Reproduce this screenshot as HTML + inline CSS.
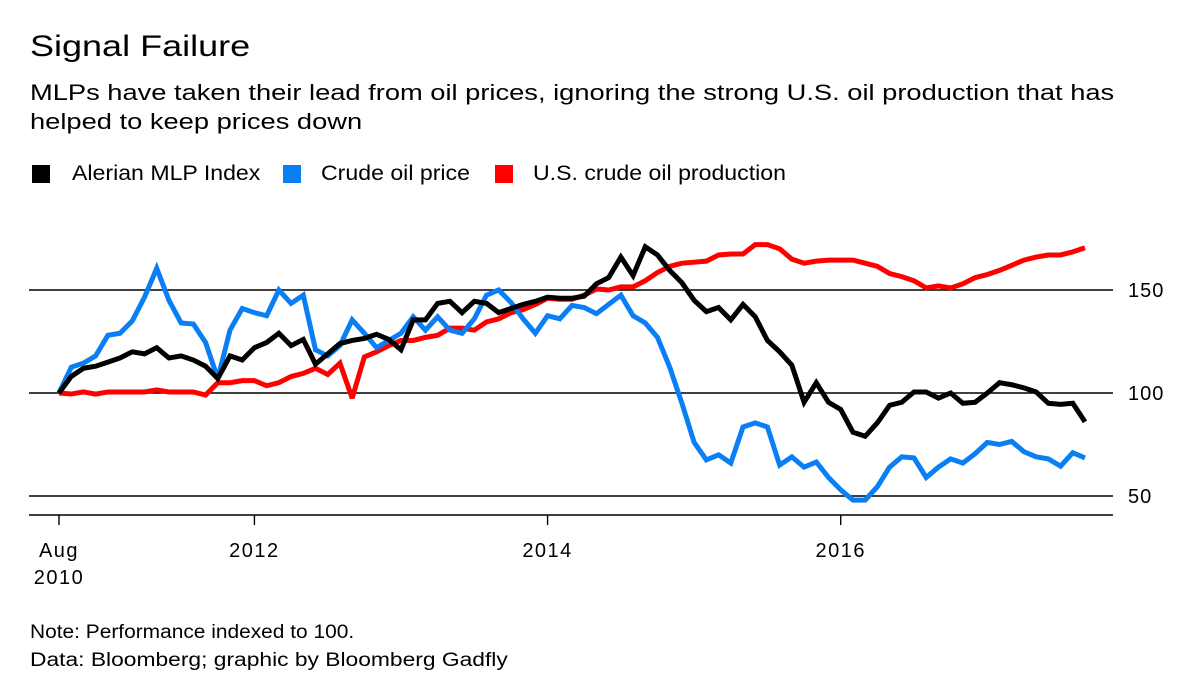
<!DOCTYPE html>
<html><head><meta charset="utf-8"><style>
body{margin:0;width:1200px;height:694px;background:#fff;font-family:"Liberation Sans",sans-serif;color:#000;overflow:hidden;position:relative}
.t{position:absolute;white-space:nowrap;transform-origin:0 0}
.sw{position:absolute;width:18px;height:18px;top:165px}
</style></head><body>
<div class="t" style="left:30px;top:30px;font-size:30px;transform:scaleX(1.2)">Signal Failure</div>
<div class="t" style="left:30px;top:78px;font-size:22px;line-height:29px;transform:scaleX(1.24)">MLPs have taken their lead from oil prices, ignoring the strong U.S. oil production that has<br>helped to keep prices down</div>
<div>
<div class="sw" style="left:32px;background:#000"></div>
<div class="t" style="left:72px;top:162px;font-size:21px;transform:scaleX(1.1)">Alerian MLP Index</div>
<div class="sw" style="left:283px;background:#0a7ff5"></div>
<div class="t" style="left:321px;top:162px;font-size:21px;transform:scaleX(1.1)">Crude oil price</div>
<div class="sw" style="left:495px;background:#ff0000"></div>
<div class="t" style="left:533px;top:162px;font-size:21px;transform:scaleX(1.1)">U.S. crude oil production</div>
</div>
<svg id="chart" width="1200" height="694" style="position:absolute;left:0;top:0"></svg>
<div class="t" style="left:30px;top:622px;font-size:19px;transform:scaleX(1.1)">Note: Performance indexed to 100.</div>
<div class="t" style="left:30px;top:650px;font-size:19px;transform:scaleX(1.2)">Data: Bloomberg; graphic by Bloomberg Gadfly</div>
<script>
const mlp=[100,108,112,113,115,117,120,119,122,117,118,116,113,107,118,116,122,124.5,129,123,126,114,119,124,125.5,126.5,128.5,126,121,135.5,135.5,143.5,144.5,139,144.5,143.5,139,141,143,144.5,146.5,146,146,147,153,156,166,157,171,167,159.5,153.5,145,139.5,141.5,135.5,143,137,125.5,120,113.5,95.5,105,95.5,92,81,79,85.5,94,95.5,100.5,100.5,97.5,100,95,95.5,100,105,104,102.5,100.5,95,94.5,95,86];
const crude=[100,112.5,114.5,118,128,129,135,146.5,160.5,145,134,133.5,124.5,107,130.5,141,139,137.5,150,143.5,147.5,121,118,123,135.5,129,122,125.5,129,137,130.5,137,130.5,129,136,147.5,150,144,136,129,137.5,136,142.5,141.5,138.5,143,147.5,137.5,134,127,112.5,95,76,67.5,70,66,83.5,85.5,83.5,65,69,64,66.5,59,53,48,48,54.5,64,69,68.5,59,64,68,66,70.5,76,75,76.5,71.5,69,68,64.5,71,68.5];
const production=[100,99.5,100.5,99.5,100.5,100.5,100.5,100.5,101.5,100.5,100.5,100.5,99,105,105,106,106,103.5,105,108,109.5,112,109,114.5,97.5,117.5,120,123,125.5,125.5,127,128,131.5,131.5,130.5,134.5,136,139,140.5,143,146,145.5,145.5,147.5,150.5,150,151.5,151.5,154.5,158.5,161.5,163,163.5,164,167,167.5,167.5,172,172,170,165,163,164,164.5,164.5,164.5,163,161.5,158,156.5,154.5,151,152,151,153,156,157.5,159.5,162,164.5,166,167,167,168.5,170.5];
const yTicks=[150,100,50];
const xTicks=[{m:0,l:["Aug","2010"]},{m:16,l:["2012"]},{m:40,l:["2014"]},{m:64,l:["2016"]}];
const NS="http://www.w3.org/2000/svg";
const svg=document.getElementById('chart');
const x=m=>59+m*(1026/84);
const y=v=>393-(v-100)*2.06;
function mk(t,a){const e=document.createElementNS(NS,t);for(const k in a)e.setAttribute(k,a[k]);svg.appendChild(e);return e;}
yTicks.forEach(v=>{
 const l=mk('line',{x1:29,x2:1113,y1:y(v),y2:y(v),stroke:'#000','stroke-width':1.4});
 
 
 const t=mk('text',{x:1128,y:y(v)+7,'font-size':20,'letter-spacing':1,'font-family':'Liberation Sans, sans-serif'});
 t.textContent=v;
 
 
});
const ax=mk('line',{x1:29,x2:1113,y1:515,y2:515,stroke:'#000','stroke-width':1.4});


xTicks.forEach(tk=>{
 const l=mk('line',{x1:x(tk.m),x2:x(tk.m),y1:515,y2:525,stroke:'#000','stroke-width':1.4});
 
 
 tk.l.forEach((s,i)=>{
  const t=mk('text',{x:x(tk.m),y:557+i*27,'font-size':20,'letter-spacing':1.5,'text-anchor':'middle','font-family':'Liberation Sans, sans-serif'});
  t.textContent=s;
  
  
 });
});
[[production,'#ff0000','production-line'],[crude,'#0a7ff5','crude-oil-line'],[mlp,'#000','mlp-index-line']].forEach(([d,c,n])=>{
 const p=mk('polyline',{points:d.map((v,i)=>x(i)+','+y(v)).join(' '),fill:'none',stroke:c,'stroke-width':5,'stroke-linejoin':'miter','stroke-miterlimit':3});
 
 
});
</script>
</body></html>
